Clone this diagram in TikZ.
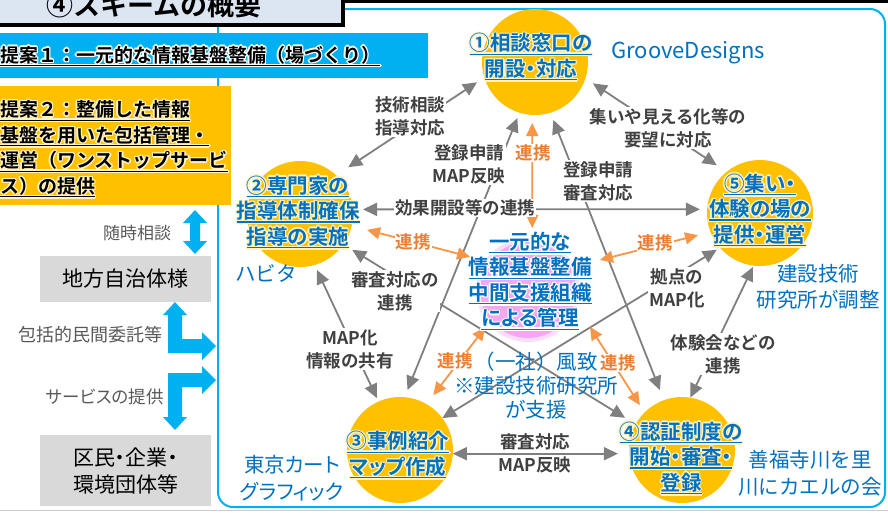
\documentclass[tikz,border=0pt]{standalone}
\usepackage{fontspec}
\setmainfont{Noto Sans CJK JP}[BoldFont={Noto Sans CJK JP Bold}]
\newfontfamily\jpp{Noto Sans CJK JP}[RawFeature=+palt, BoldFont={Noto Sans CJK JP Bold}]
\usetikzlibrary{arrows.meta}
\definecolor{yel}{HTML}{FFC000}
\definecolor{cblue}{HTML}{0070C0}
\definecolor{dgray}{HTML}{404040}
\definecolor{otext}{HTML}{ED7D31}
\definecolor{oarrc}{HTML}{F79646}
\definecolor{garrc}{HTML}{7F7F7F}
\definecolor{skyb}{HTML}{00B0F0}
\definecolor{boxg}{HTML}{D9D9D9}
\definecolor{titlef}{HTML}{DCE6F2}
\definecolor{pinkc}{HTML}{F5A8F0}
\definecolor{lgray}{HTML}{595959}
\definecolor{glowc}{HTML}{FFF3C4}
\newcommand\fsz[2]{\fontsize{#1}{#2}\selectfont}
\newcommand\myul[1]{\setbox0=\hbox{#1}\rlap{\rule[-4pt]{\wd0}{1.3pt}}\box0}
\newcommand\glw[2]{\setbox2=\hbox{#2}%
  \rlap{\color{#1}\kern-1.3pt\copy2}\rlap{\color{#1}\kern1.3pt\copy2}%
  \rlap{\color{#1}\raise1.3pt\copy2}\rlap{\color{#1}\lower1.3pt\copy2}%
  \rlap{\color{#1}\kern-0.9pt\raise0.9pt\copy2}\rlap{\color{#1}\kern0.9pt\raise0.9pt\copy2}%
  \rlap{\color{#1}\kern-0.9pt\lower0.9pt\copy2}\rlap{\color{#1}\kern0.9pt\lower0.9pt\copy2}\box2}
\newcommand\cl[1]{\glw{glowc}{\myul{#1}}}
\newcommand\wl[1]{\glw{white}{\myul{#1}}}
\tikzset{
  circ/.style={circle, fill=yel, minimum size=106pt, inner sep=0pt, outer sep=0pt},
  clab/.style={text=cblue, font=\jpp\bfseries\fsz{20.5pt}{25.5pt}, align=center, inner sep=0pt},
  glab/.style={text=dgray, font=\bfseries\fsz{17.5pt}{23pt}, align=center, fill=white, inner sep=1pt},
  olab/.style={text=otext, font=\bfseries\fsz{17.5pt}{21pt}, fill=white, inner sep=1pt},
  comp/.style={text=cblue, font=\fsz{20.5pt}{26pt}, align=center, inner sep=0pt},
  side/.style={text=lgray, inner sep=0pt},
  gbox/.style={fill=boxg, font=\jpp\fsz{21pt}{27pt}, align=center, inner sep=0pt, minimum width=171pt},
  garr/.style={draw=garrc, line width=1.8pt, {Triangle[length=14pt,width=13pt]}-{Triangle[length=14pt,width=13pt]}},
  oarr/.style={draw=oarrc, line width=1.8pt, {Triangle[length=13pt,width=12pt]}-{Triangle[length=13pt,width=12pt]}},
  bigarrow/.style={fill=skyb, draw=none}
}
\begin{document}
\begin{tikzpicture}[x=1pt,y=-1pt]
\useasboundingbox (0,0) rectangle (888,512);
% frame
\draw[skyb, line width=2pt, rounded corners=15pt] (218,9) rectangle (885,507);
\draw[gray!40, line width=1pt] (0,510.5) -- (888,510.5);
% title
\draw[black, line width=6pt] (330,0) -- (888,0);
\draw[black, line width=3.5pt, fill=titlef] (-10,-10) rectangle (343,25);
\node[font=\bfseries\fsz{27pt}{30pt}, inner sep=0pt] (title) at (154,5) {④スキームの概要};
% proposal bands
\fill[skyb] (0,33) rectangle (428,78);
\node[anchor=west, font=\bfseries\fsz{19pt}{22pt}, inner sep=0pt] (p1) at (0,56) {\wl{提案１：一元的な情報基盤整備（場づくり）}};
\fill[yel] (0,86) rectangle (231,205);
\node[anchor=west, align=left, font=\bfseries\fsz{19pt}{25.5pt}, inner sep=0pt] (p2) at (0,149)
  {\cl{提案２：整備した情報}\\\cl{基盤を用いた包括管理・}\\\cl{運営（ワンストップサービ}\\\cl{ス）の提供}};
% left column
\fill[bigarrow] (195,210) -- (207,223) -- (200,223) -- (200,241) -- (207,241) -- (195,254) -- (183,241) -- (190,241) -- (190,223) -- (183,223) -- cycle;
\node[side, font=\fsz{17pt}{20pt}] (q1) at (137,233) {随時相談};
\node[gbox, minimum height=46pt] (jichi) at (125.5,279) {地方自治体様};
\fill[bigarrow] (175,302) -- (187,315) -- (182,315) -- (182,339) -- (202,339) -- (202,332) -- (216,346) -- (202,360) -- (202,353) -- (168,353) -- (168,315) -- (163,315) -- cycle;
\node[side, font=\fsz{18pt}{20pt}] (q2) at (90,335) {包括的民間委託等};
\fill[bigarrow] (216,380) -- (202,394) -- (202,387) -- (182,387) -- (182,417) -- (187,417) -- (175,430) -- (163,417) -- (168,417) -- (168,373) -- (202,373) -- (202,366) -- cycle;
\node[side, font=\jpp\fsz{17.5pt}{20pt}] (q3) at (105,397) {サービスの提供};
\node[gbox, minimum height=71pt] (kumin) at (125.5,470.5) {区民・企業・\\環境団体等};
% circles
\fill[pinkc!40] (528,290) circle (52pt);
\node[circle, fill=pinkc, minimum size=96pt, inner sep=0pt, outer sep=0pt] (cc) at (528,290) {};
\node[circ] (c1) at (535,62) {};
\node[circ] (c2) at (300,214) {};
\node[circ] (c5) at (760,213) {};
\node[circ] (c3) at (400,450) {};
\node[circ] (c4) at (682,450) {};
% gray connectors
\draw[garr, shorten <=8.7pt, shorten >=14.5pt] (c1.197) -- (c2.47);
\draw[garr, shorten <=5.8pt, shorten >=7.8pt] (c1.253) -- (c3.85);
\draw[garr, shorten <=7.8pt, shorten >=10.9pt] (c1.287) -- (c4.110);
\draw[garr, shorten <=9pt, shorten >=11.9pt] (c1.342) -- (c5.129);
\draw[garr, shorten <=10.2pt, shorten >=7.2pt] (c2.5) -- (c5.176);
\draw[garr, shorten <=10.3pt, shorten >=12.4pt] (c2.325) -- (c4.151);
\draw[garr, shorten <=5.6pt, shorten >=3.9pt] (c2.286) -- (c3.114);
\draw[garr, shorten <=0pt, shorten >=3.8pt] (c3.37) -- (c5.221);
\draw[garr, shorten <=0pt, shorten >=11.2pt] (c3.356) -- (c4.184);
\draw[garr, shorten <=0pt, shorten >=1.5pt] (c4.81) -- (c5.263);
% orange connectors
\draw[oarr, shorten <=8.1pt, shorten >=14.2pt] (c1.267) -- (cc.85);
\draw[oarr, shorten <=19.7pt, shorten >=15.9pt] (cc.144) -- (c2.347);
\draw[oarr, shorten <=30.5pt, shorten >=12.9pt] (cc.28) -- (c5.201);
\draw[oarr, shorten <=9pt, shorten >=11.2pt] (cc.219) -- (c3.60);
\draw[oarr, shorten <=29pt, shorten >=8.7pt] (cc.345) -- (c4.135);
% gray labels
\node[glab] (l12) at (410,116) {技術相談\\指導対応};
\node[glab] (l13) at (469,164) {登録申請\\MAP反映};
\node[glab] (l14) at (598,181) {登録申請\\審査対応};
\node[glab] (l15) at (668,128) {集いや見える化等の\\要望に対応};
\node[glab] (l25) at (465,208) {効果開設等の連携};
\node[glab] (l24) at (395,291) {審査対応の\\連携};
\node[glab] (l23) at (350,349) {MAP化\\情報の共有};
\node[glab] (l35) at (677,288) {拠点の\\MAP化};
\node[glab] (l34a) at (535,442) {審査対応};
\node[glab] (l34b) at (535,465) {MAP反映};
\node[glab] (l45) at (723,354) {体験会などの\\連携};
% orange labels
\node[olab] (o1) at (533,153) {連携};
\node[olab] (o2) at (413,242) {連携};
\node[olab] (o5) at (655,243) {連携};
\node[olab] (o3) at (455,361) {連携};
\node[olab] (o4) at (618,363) {連携};
% company names
\node[comp, font=\fsz{22pt}{26pt}] (gd) at (688,53) {GrooveDesigns};
\node[comp] (hb) at (266,273) {ハビタ};
\node[comp] (kg) at (818,287) {建設技術\\研究所が調整};
\node[comp, font=\jpp\fsz{20.5pt}{27pt}] (tk) at (292,478) {東京カート\\グラフィック};
\node[comp, font=\fsz{20.5pt}{27pt}] (zf) at (810,473) {善福寺川を里\\川にカエルの会};
\node[comp, font=\fsz{20.5pt}{24pt}] (fc) at (536,386) {（一社）風致\\※建設技術研究所\\が支援};
% circle labels
\node[clab] (t1) at (531,57) {\cl{①相談窓口の}\\\cl{開設・対応}};
\node[clab] (t2) at (298,212) {\cl{②専門家の}\\\cl{指導体制確保}\\\cl{指導の実施}};
\node[clab] (t5) at (760,210) {\cl{⑤集い・}\\\cl{体験の場の}\\\cl{提供・運営}};
\node[clab] (t3) at (398,455) {\cl{③事例紹介}\\\cl{マップ作成}};
\node[clab] (t4) at (681,458) {\cl{④認証制度の}\\\cl{開始・審査・}\\\cl{登録}};
\node[clab] (tc) at (530,281) {\wl{一元的な}\\\wl{情報基盤整備}\\\wl{中間支援組織}\\\wl{による管理}};
\end{tikzpicture}
\end{document}
